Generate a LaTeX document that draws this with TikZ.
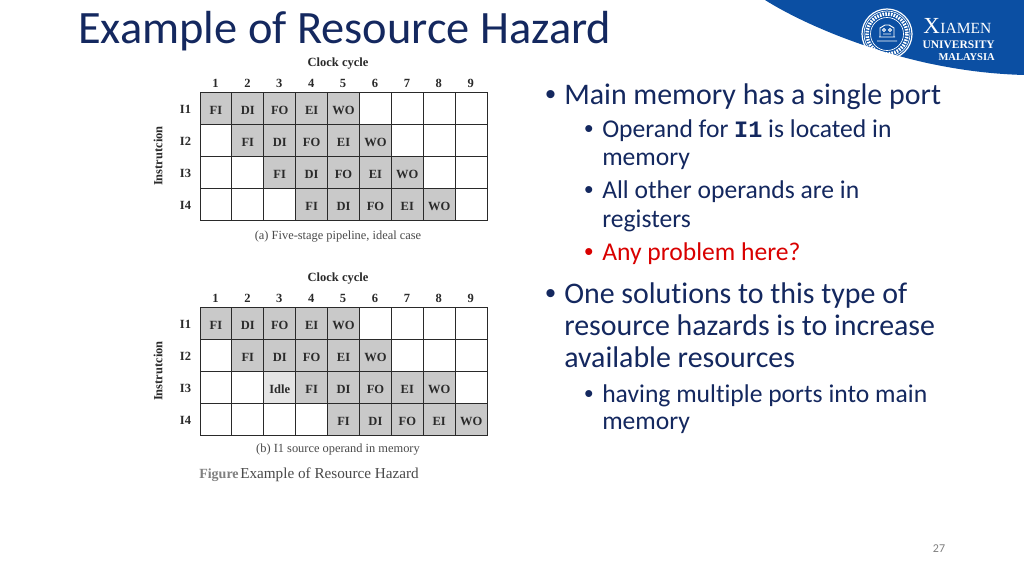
\documentclass[tikz,border=0pt]{standalone}
\usepackage{fontspec}
\setmainfont[Ligatures=NoCommon]{Carlito}
\newfontfamily\figfont{Liberation Serif}
\newfontfamily\codefont{Liberation Mono}
\newfontfamily\bulletfont{Liberation Sans}
\definecolor{titleblue}{HTML}{14285F}
\definecolor{bodytext}{HTML}{14285F}
\definecolor{bannerblue}{HTML}{0B4FA3}
\definecolor{cellgray}{HTML}{C9C9C9}
\definecolor{idlegray}{HTML}{E4E4E4}
\definecolor{figink}{HTML}{2A2A2A}
\newcommand{\pxs}[1]{\fontsize{\fpeval{#1*0.75}}{\fpeval{#1*0.9}}\selectfont}
\tikzset{
  x=0.75pt,y=-0.75pt,
  cellbox/.style={draw=figink,line width=0.75pt,minimum width=23.9pt,minimum height=24pt,inner sep=0pt,anchor=north west,font=\figfont\bfseries\pxs{12.5},text=figink,text height=11pt,text depth=1.8pt},
  busy/.style={cellbox,fill=cellgray},
  free/.style={cellbox,fill=white},
  idle/.style={cellbox,fill=idlegray},
  figlabel/.style={font=\figfont\bfseries\pxs{12.5},text=figink,inner sep=0pt},
  figcaption/.style={font=\figfont\pxs{12.4},text=figink!85,inner sep=0pt},
  titletext/.style={font=\pxs{46.4},text=titleblue,anchor=base west,inner sep=0pt},
  mainitem/.style={font=\pxs{29.9},text=bodytext,anchor=base west,inner sep=0pt},
  subitem/.style={font=\pxs{25.6},text=bodytext,anchor=base west,inner sep=0pt},
  mainbullet/.style={font=\bulletfont\pxs{29.9},text=bodytext,anchor=base west,inner sep=0pt},
  subbullet/.style={font=\bulletfont\pxs{25.6},text=bodytext,anchor=base west,inner sep=0pt},
  logotext/.style={text=white,inner sep=0pt,anchor=base east},
}
\begin{document}
\begin{tikzpicture}
\useasboundingbox (0,0) rectangle (1024,574);
\fill[white] (0,0) rectangle (1024,574);
% banner
\fill[bannerblue] (765,0) .. controls (800,22) and (860,48) .. (927,63) .. controls (960,70) and (990,74) .. (1024,75) -- (1024,0) -- cycle;
% seal
\coordinate (seal) at (887,34);
\draw[white,line width=0.9pt] (seal) circle (25);
\draw[white,line width=0.5pt] (seal) circle (23);
\draw[white,line width=2.6pt,dash pattern=on 1.2pt off 0.9pt] (seal) circle (20);
\draw[white,line width=0.5pt] (seal) circle (16.5);
\draw[white,line width=0.7pt] (877,41) -- (897,41) (879,37) -- (895,37) (880,37) -- (880,28) -- (885,25) -- (889,25) -- (894,28) -- (894,37);
\draw[white,line width=0.6pt] (884,30) circle (1.5) (890,30) circle (1.5) (883,34) -- (891,34);
% logo text
\node[logotext,font=\figfont\pxs{23},anchor=base west] (logox) at (923,34) {X};
\node[logotext,font=\figfont\pxs{15.5},anchor=base west] (logoa) at (logox.base east) {IAMEN};
\node[logotext,font=\figfont\bfseries\pxs{11.5}] (logob) at (995,49) {UNIVERSITY};
\node[logotext,font=\figfont\bfseries\pxs{10.5}] (logoc) at (995,61) {MALAYSIA};
% title
\node[titletext] (title) at (78,44) {Example of Resource Hazard};
% figure (a)
\foreach \r/\lab in {1/I1,2/I2,3/I3,4/I4}{
  \pgfmathsetmacro{\yy}{91.7+(\r-1)*32.07}
  \node[figlabel] (al\r) at (185.5,\yy+17.5) {\lab};
  \foreach \c in {1,...,9}{
    \pgfmathsetmacro{\xx}{199.5+(\c-1)*31.9}
    \node[free] (a\r-\c) at (\xx,\yy) {};
  }
}
\foreach \r/\c/\t in {1/1/FI,1/2/DI,1/3/FO,1/4/EI,1/5/WO,2/2/FI,2/3/DI,2/4/FO,2/5/EI,2/6/WO,3/3/FI,3/4/DI,3/5/FO,3/6/EI,3/7/WO,4/4/FI,4/5/DI,4/6/FO,4/7/EI,4/8/WO}{
  \pgfmathsetmacro{\yy}{91.7+(\r-1)*32.07}
  \pgfmathsetmacro{\xx}{199.5+(\c-1)*31.9}
  \node[busy] (at\r-\c) at (\xx,\yy) {\t};
}
\foreach \c in {1,...,9}{
  \pgfmathsetmacro{\xx}{215.5+(\c-1)*31.9}
  \node[figlabel] (ah\c) at (\xx,83) {\c};
}
\node[figlabel] (aclock) at (338,63.5) {Clock cycle};
\node[figlabel,rotate=90] (ainstr) at (158,156) {Instrutcion};
\node[figcaption] (acap) at (338,236.5) {(a) Five-stage pipeline, ideal case};
% figure (b)
\foreach \r/\lab in {1/I1,2/I2,3/I3,4/I4}{
  \pgfmathsetmacro{\yy}{306.7+(\r-1)*32.07}
  \node[figlabel] (bl\r) at (185.5,\yy+17.5) {\lab};
  \foreach \c in {1,...,9}{
    \pgfmathsetmacro{\xx}{199.5+(\c-1)*31.9}
    \node[free] (b\r-\c) at (\xx,\yy) {};
  }
}
\foreach \r/\c/\t in {1/1/FI,1/2/DI,1/3/FO,1/4/EI,1/5/WO,2/2/FI,2/3/DI,2/4/FO,2/5/EI,2/6/WO,3/4/FI,3/5/DI,3/6/FO,3/7/EI,3/8/WO,4/5/FI,4/6/DI,4/7/FO,4/8/EI,4/9/WO}{
  \pgfmathsetmacro{\yy}{306.7+(\r-1)*32.07}
  \pgfmathsetmacro{\xx}{199.5+(\c-1)*31.9}
  \node[busy] (bt\r-\c) at (\xx,\yy) {\t};
}
\node[idle] (bidle) at (199.5+2*31.9,306.7+2*32.07) {Idle};
\foreach \c in {1,...,9}{
  \pgfmathsetmacro{\xx}{215.5+(\c-1)*31.9}
  \node[figlabel] (bh\c) at (\xx,298) {\c};
}
\node[figlabel] (bclock) at (338,278.5) {Clock cycle};
\node[figlabel,rotate=90] (binstr) at (158,371) {Instrutcion};
\node[figcaption] (bcap) at (338,450) {(b) I1 source operand in memory};
\node[figcaption,font=\figfont\bfseries\pxs{14},anchor=base west,text=gray] (bfiga) at (199,478) {Figure};
\node[figcaption,font=\figfont\pxs{15.2},anchor=base west] (bfigb) at (240,478) {Example of Resource Hazard};
% bullets
\node[mainbullet] (m1b) at (545,105) {•};
\node[mainitem] (m1) at (564,105) {Main memory has a single port};
\node[subbullet] (s1b) at (584,138) {•};
\node[subitem] (s1) at (602,138) {Operand for {\codefont\bfseries\pxs{23.5}I1} is located in};
\node[subitem] (s1c) at (602,166) {memory};
\node[subbullet] (s2b) at (584,199) {•};
\node[subitem] (s2) at (602,199) {All other operands are in};
\node[subitem] (s2c) at (602,227) {registers};
\node[subbullet,text=red!85!black] (s3b) at (584,260) {•};
\node[subitem,text=red!85!black] (s3) at (602,260) {Any problem here?};
\node[mainbullet] (m2b) at (545,303) {•};
\node[mainitem] (m2) at (564,303) {One solutions to this type of};
\node[mainitem] (m2c) at (564,335) {resource hazards is to increase};
\node[mainitem] (m2d) at (564,367) {available resources};
\node[subbullet] (s4b) at (584,402) {•};
\node[subitem] (s4) at (602,402) {having multiple ports into main};
\node[subitem] (s4c) at (602,429) {memory};
% page number
\node[font=\pxs{12},text=gray,inner sep=0pt] (pageno) at (939,549) {27};
\end{tikzpicture}
\end{document}
